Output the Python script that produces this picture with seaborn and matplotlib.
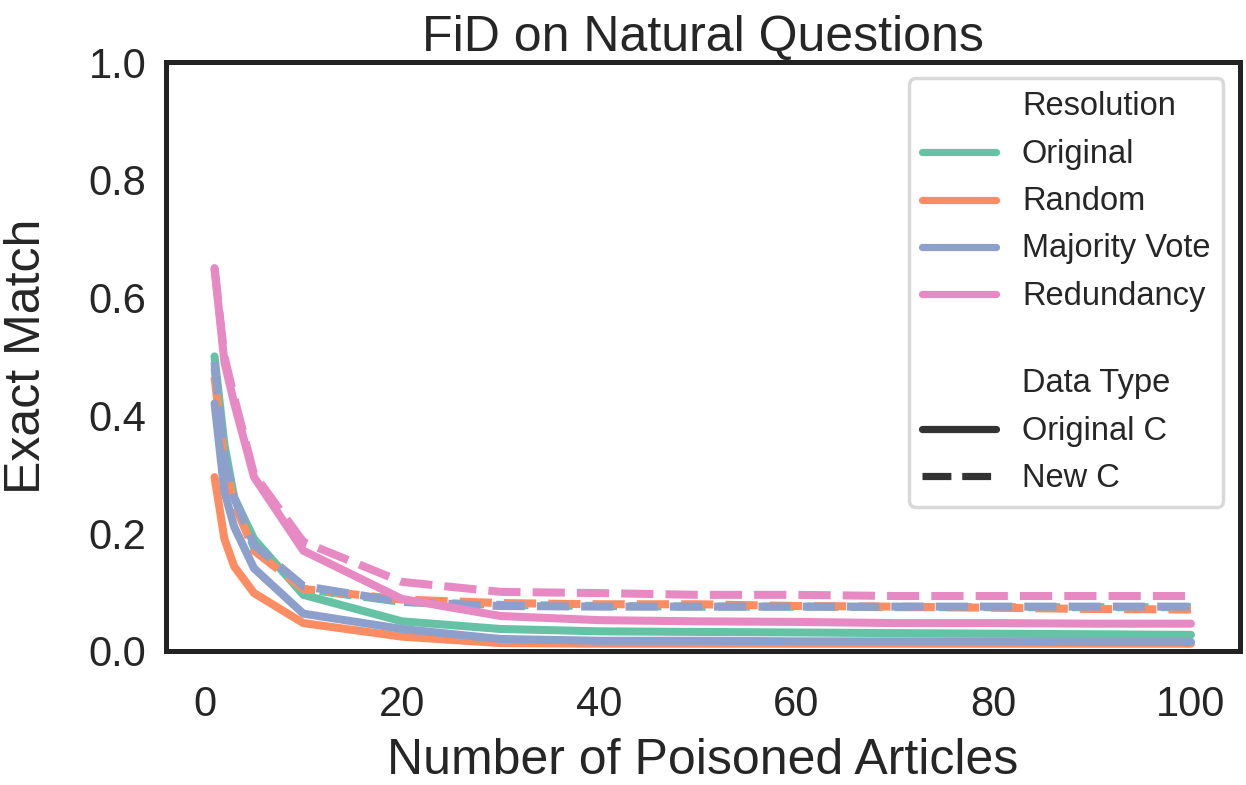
import numpy as np
import pandas as pd
import matplotlib
matplotlib.use("Agg")
import matplotlib.pyplot as plt
from matplotlib.lines import Line2D
import seaborn as sns

# ---- data ----
articles = [1, 2, 3, 5, 10, 20, 30, 40, 50, 60, 70, 80, 90, 100]
resolutions = ["Original", "Random", "Majority Vote", "Redundancy"]
data_types = ["Original C", "New C"]

original_orig = [0.50, 0.35, 0.26, 0.19, 0.095, 0.050, 0.037, 0.033, 0.032, 0.031, 0.030, 0.029, 0.028, 0.027]
original_new = [0.48, 0.33, 0.26, 0.175, 0.105, 0.083, 0.078, 0.076, 0.075, 0.075, 0.074, 0.074, 0.074, 0.074]
random_orig = [0.295, 0.19, 0.143, 0.098, 0.047, 0.024, 0.013, 0.012, 0.012, 0.012, 0.012, 0.012, 0.012, 0.012]
random_new = [0.465, 0.32, 0.25, 0.17, 0.105, 0.087, 0.081, 0.079, 0.079, 0.076, 0.075, 0.073, 0.071, 0.070]
majority_orig = [0.42, 0.27, 0.21, 0.14, 0.063, 0.037, 0.020, 0.017, 0.017, 0.016, 0.016, 0.016, 0.015, 0.015]
majority_new = [0.49, 0.33, 0.26, 0.18, 0.11, 0.083, 0.076, 0.075, 0.075, 0.075, 0.075, 0.075, 0.075, 0.075]
redundancy_orig = [0.65, 0.49, 0.42, 0.295, 0.17, 0.088, 0.059, 0.052, 0.050, 0.049, 0.047, 0.047, 0.046, 0.046]
redundancy_new = [0.65, 0.50, 0.43, 0.30, 0.185, 0.117, 0.100, 0.098, 0.095, 0.095, 0.093, 0.093, 0.093, 0.093]

series = {
    ("Original", "Original C"): original_orig,
    ("Original", "New C"): original_new,
    ("Random", "Original C"): random_orig,
    ("Random", "New C"): random_new,
    ("Majority Vote", "Original C"): majority_orig,
    ("Majority Vote", "New C"): majority_new,
    ("Redundancy", "Original C"): redundancy_orig,
    ("Redundancy", "New C"): redundancy_new,
}

rows = []
for res in resolutions:
    for dt in data_types:
        for x, y in zip(articles, series[(res, dt)]):
            rows.append({"Number of Poisoned Articles": x, "Exact Match": y,
                         "Resolution": res, "Data Type": dt})
df = pd.DataFrame(rows)

# ---- style ----
sns.set_theme(style="white")
plt.rcParams["font.family"] = ["Liberation Sans", "DejaVu Sans"]
plt.rcParams["axes.edgecolor"] = "#222222"

fig = plt.figure(figsize=(12.46, 7.85), dpi=100)
ax = fig.add_axes([0.133, 0.171, 0.862, 0.750])

palette = sns.color_palette("Set2", 4)
sns.lineplot(data=df, x="Number of Poisoned Articles", y="Exact Match",
             hue="Resolution", style="Data Type", hue_order=resolutions,
             style_order=data_types, palette=palette, linewidth=5.8, ax=ax)

ax.set_ylim(0, 1.0)
ax.set_yticks([0.0, 0.2, 0.4, 0.6, 0.8, 1.0])
ax.set_xticks([0, 20, 40, 60, 80, 100])
ax.tick_params(axis="both", labelsize=30)
ax.tick_params(axis="x", pad=19)
ax.tick_params(axis="y", pad=8)
ax.set_xlabel("Number of Poisoned Articles", fontsize=36, labelpad=9)
ax.set_ylabel("Exact Match", fontsize=36, labelpad=28)
ax.set_title("FiD on Natural Questions", fontsize=36, pad=8)
for sp in ax.spines.values():
    sp.set_linewidth(3.6)
    sp.set_color("#222222")

# legend (with a blank spacer row between the two groups)
handles, labels = ax.get_legend_handles_labels()
for h in handles:
    h.set_linewidth(5.2)
split = labels.index("Data Type")
blank = Line2D([], [], linestyle="none")
handles = handles[:split] + [blank] + handles[split:]
labels = labels[:split] + [" "] + labels[split:]
leg = ax.legend(handles, labels, loc="upper right", fontsize=23.5,
                frameon=True, handlelength=2.25, handletextpad=0.8,
                handleheight=0.5, labelspacing=0.5, borderpad=0.4,
                edgecolor="#d0d0d0")
leg.get_frame().set_linewidth(2.5)
leg.get_texts()[split].set_fontsize(12)

fig.savefig("out.png", dpi=100)
